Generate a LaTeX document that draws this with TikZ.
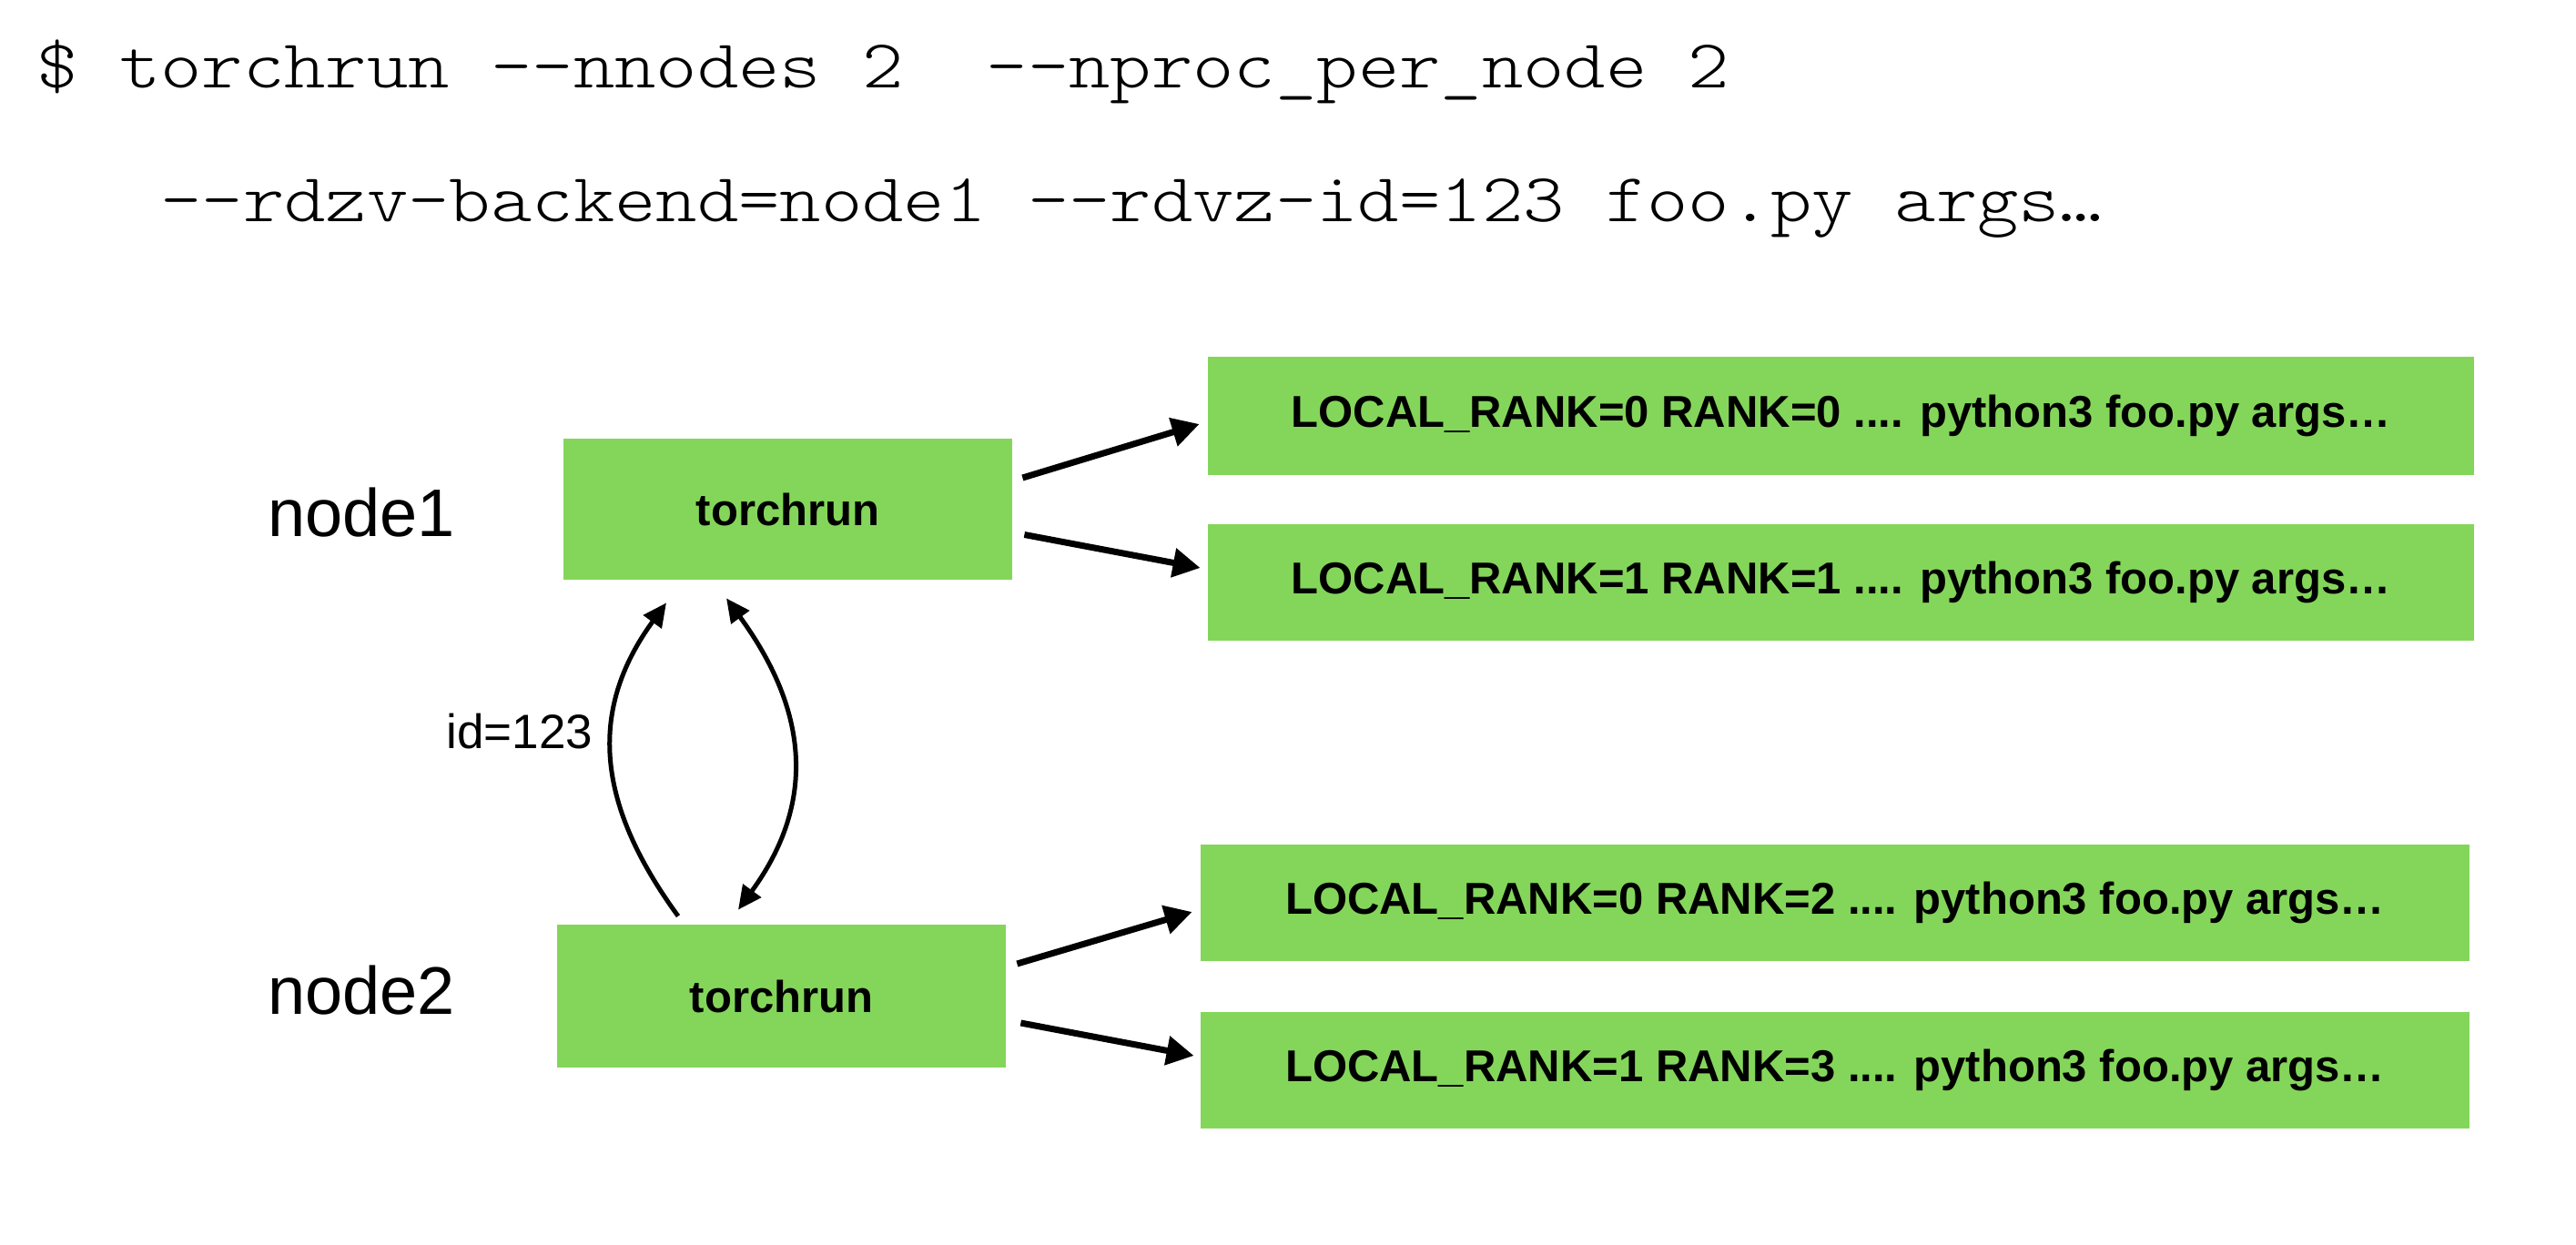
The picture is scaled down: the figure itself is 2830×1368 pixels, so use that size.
\documentclass[tikz,border=0pt]{standalone}
\usepackage{fontspec}
\setmainfont{Liberation Sans}
\setmonofont[FakeStretch=1.143]{lmmonolt10-regular.otf}
\usetikzlibrary{arrows.meta}
\definecolor{boxgreen}{HTML}{84D65A}
\begin{document}
\begin{tikzpicture}[x=0.5pt,y=-0.5pt,
  procbox/.style={fill=boxgreen, draw=none, inner sep=0pt, font=\fontsize{24.5pt}{28pt}\selectfont\bfseries},
  hostlabel/.style={inner sep=0pt, anchor=base west, font=\fontsize{37pt}{40pt}\selectfont},
  idlabel/.style={inner sep=0pt, anchor=base west, font=\fontsize{26.5pt}{30pt}\selectfont},
  codeline/.style={inner sep=0pt, anchor=base west, font=\ttfamily\fontsize{37.8pt}{40pt}\selectfont},
  straightarrow/.style={line width=3.5pt, -{Triangle[length=15pt,width=15.5pt]}},
  curvearrow/.style={line width=2.5pt, -{Triangle[length=13pt,width=12pt]}},
  curvearrowboth/.style={line width=2.5pt, {Triangle[length=13pt,width=12pt]}-{Triangle[length=13pt,width=12pt]}}
]
\useasboundingbox (0,0) rectangle (2830,1368);

% command lines
\node[codeline] (cmd1) at (40,97) {\$ torchrun --nnodes 2\ \ --nproc\_per\_node 2};
\node[codeline] (cmd2) at (176,244) {--rdzv-backend=node1 --rdvz-id=123 foo.py args…};

% host labels
\node[hostlabel] (lab1) at (294,590) {node1};
\node[hostlabel] (lab2) at (294,1114) {node2};
\node[idlabel] (idl) at (490,822) {id=123};

% torchrun boxes
\node[procbox, minimum width=246.5pt, minimum height=77.5pt] (T1) at (865.5,559.5) {torchrun};
\node[procbox, minimum width=246.5pt, minimum height=78.5pt] (T2) at (858.5,1094.5) {torchrun};

% worker boxes
\node[procbox, minimum width=695.5pt, minimum height=65pt] (R1) at (2022.5,457) {LOCAL\_RANK=0 RANK=0 .... python3 foo.py args…};
\node[procbox, minimum width=695.5pt, minimum height=64pt] (R2) at (2022.5,640) {LOCAL\_RANK=1 RANK=1 .... python3 foo.py args…};
\node[procbox, minimum width=697pt, minimum height=64pt] (R3) at (2016,992) {LOCAL\_RANK=0 RANK=2 .... python3 foo.py args…};
\node[procbox, minimum width=697pt, minimum height=64pt] (R4) at (2016,1176) {LOCAL\_RANK=1 RANK=3 .... python3 foo.py args…};

% straight arrows
\draw[straightarrow] ([xshift=5.5pt,yshift=17.25pt]T1.east) -- ([xshift=-4.5pt,yshift=-4.5pt]R1.west);
\draw[straightarrow] ([xshift=6.5pt,yshift=-14pt]T1.east) -- ([xshift=-4pt,yshift=8pt]R2.west);
\draw[straightarrow] ([xshift=6pt,yshift=17.75pt]T2.east) -- ([xshift=-4.5pt,yshift=-5pt]R3.west);
\draw[straightarrow] ([xshift=8pt,yshift=-14.75pt]T2.east) -- ([xshift=-3.5pt,yshift=8pt]R4.west);

% curved arrows between torchrun boxes
\draw[curvearrow] ([xshift=-56.75pt,yshift=4.5pt]T2.north) .. controls (657,886) and (644,783) .. ([xshift=-66.75pt,yshift=-12.5pt]T1.south);
\draw[curvearrowboth] ([xshift=-33.75pt,yshift=-10pt]T1.south) .. controls (886,778) and (899,879) .. ([xshift=-23.75pt,yshift=8pt]T2.north);
\end{tikzpicture}
\end{document}
